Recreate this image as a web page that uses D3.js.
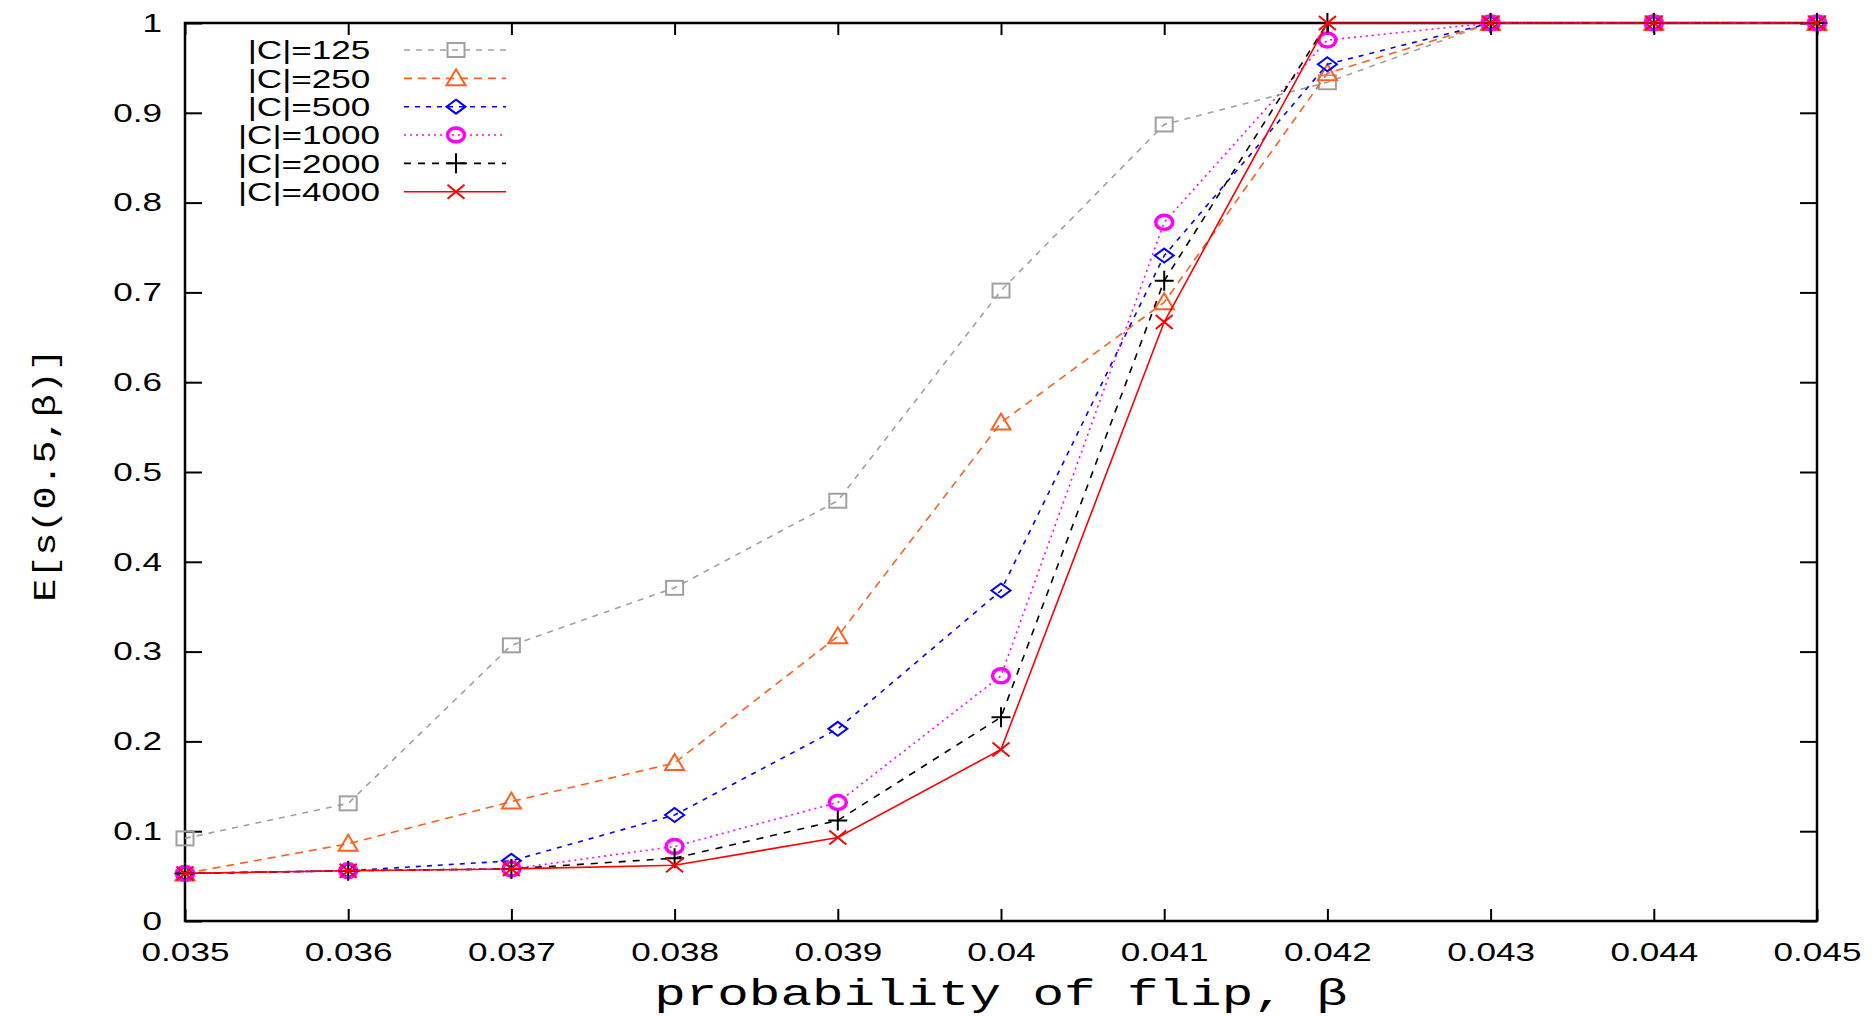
<!DOCTYPE html>
<html>
<head>
<meta charset="utf-8">
<script src="https://cdn.jsdelivr.net/npm/d3@7"></script>
<style>
  body { margin: 0; background: #fff; }
  svg { display: block; }
</style>
</head>
<body>
<div id="chart"></div>
<script>
// flip probability on the x axis
const betas = [0.035, 0.036, 0.037, 0.038, 0.039, 0.040, 0.041, 0.042, 0.043, 0.044, 0.045]

const c125  = [0.092, 0.131, 0.307, 0.371, 0.468, 0.702, 0.887, 0.934, 1, 1, 1]
const c250  = [0.053, 0.086, 0.133, 0.176, 0.317, 0.555, 0.689, 0.944, 1, 1, 1]
const c500  = [0.053, 0.056, 0.067, 0.118, 0.214, 0.368, 0.741, 0.954, 1, 1, 1]
const c1000 = [0.053, 0.056, 0.058, 0.083, 0.132, 0.273, 0.778, 0.981, 1, 1, 1]
const c2000 = [0.053, 0.056, 0.058, 0.070, 0.112, 0.227, 0.713, 1, 1, 1, 1]
const c4000 = [0.053, 0.056, 0.058, 0.062, 0.093, 0.191, 0.667, 1, 1, 1, 1]

const seriesNames = ["|C|=125", "|C|=250", "|C|=500", "|C|=1000", "|C|=2000", "|C|=4000"]
const xTicks = [0.035, 0.036, 0.037, 0.038, 0.039, 0.040, 0.041, 0.042, 0.043, 0.044, 0.045]
const yTicks = [0, 0.1, 0.2, 0.3, 0.4, 0.5, 0.6, 0.7, 0.8, 0.9, 1]

const series = [
  {name: seriesNames[0], values: c125,  color: "#a0a0a0", dash: "6,6", sym: "square"},
  {name: seriesNames[1], values: c250,  color: "#ff6020", dash: "8,6", sym: "triangle"},
  {name: seriesNames[2], values: c500,  color: "#0000ff", dash: "5,6", sym: "diamond"},
  {name: seriesNames[3], values: c1000, color: "#ff00ff", dash: "2,4", sym: "circle"},
  {name: seriesNames[4], values: c2000, color: "#000000", dash: "7,7", sym: "plus"},
  {name: seriesNames[5], values: c4000, color: "#ff0000", dash: null,  sym: "cross"}
]

const width = 1874
const height = 1016
const plotLeft = 185, plotRight = 1817, plotTop = 23, plotBottom = 921
const stretch = 1.35   // the original's text is wide

const svg = d3.select("#chart")
  .append("svg")
    .attr("width", width)
    .attr("height", height)

const x = d3.scaleLinear().domain([0.035, 0.045]).range([plotLeft, plotRight])
const y = d3.scaleLinear().domain([0, 1]).range([plotBottom, plotTop])

const fmtX = d => String(+d.toFixed(3))
const fmtY = d => String(+d.toFixed(1))

// axes
const xAxis = svg.append("g")
  .attr("transform", "translate(0," + plotBottom + ")")
  .call(d3.axisBottom(x).tickValues(xTicks).tickSizeInner(-12).tickSizeOuter(0).tickPadding(22).tickFormat(fmtX))
xAxis.select(".domain").remove()
xAxis.selectAll("text")
  .attr("transform", "scale(" + stretch + ",1)")

const yAxis = svg.append("g")
  .attr("transform", "translate(" + plotLeft + ",0)")
  .call(d3.axisLeft(y).tickValues(yTicks).tickSizeInner(-17).tickSizeOuter(0).tickPadding(23).tickFormat(fmtY))
yAxis.select(".domain").remove()
yAxis.selectAll("text")
  .attr("x", -23 / stretch)
  .attr("transform", "scale(" + stretch + ",1)")

const topAxis = svg.append("g")
  .attr("transform", "translate(0," + plotTop + ")")
  .call(d3.axisTop(x).tickValues(xTicks).tickSizeInner(-12).tickSizeOuter(0).tickFormat(""))
topAxis.select(".domain").remove()

const rightAxis = svg.append("g")
  .attr("transform", "translate(" + plotRight + ",0)")
  .call(d3.axisRight(y).tickValues(yTicks).tickSizeInner(-17).tickSizeOuter(0).tickFormat(""))
rightAxis.select(".domain").remove()

svg.selectAll(".tick line").attr("stroke", "#000").attr("stroke-width", 2)
svg.selectAll(".tick text")
  .attr("font-family", "'Liberation Sans', Arial, sans-serif")
  .attr("font-size", "26px")
  .attr("fill", "#000")

svg.append("rect")
  .attr("x", plotLeft)
  .attr("y", plotTop)
  .attr("width", plotRight - plotLeft)
  .attr("height", plotBottom - plotTop)
  .attr("fill", "none")
  .attr("stroke", "#000")
  .attr("stroke-width", 2.5)

// axis titles
svg.append("text")
  .attr("transform", "translate(" + (plotLeft + plotRight) / 2 + ",1005) scale(1.42,1)")
  .attr("text-anchor", "middle")
  .attr("font-family", "'Liberation Mono', 'Courier New', monospace")
  .attr("font-size", "37px")
  .attr("fill", "#000")
  .text("probability of flip, β")

svg.append("text")
  .attr("transform", "translate(55," + ((plotTop + plotBottom) / 2 + 3) + ") rotate(-90) scale(1.24,1)")
  .attr("text-anchor", "middle")
  .attr("font-family", "'Liberation Mono', 'Courier New', monospace")
  .attr("font-size", "31px")
  .attr("fill", "#000")
  .text("E[s(0.5,β)]")

// marker shapes, a bit wider than tall like the original
function drawMarker(g, sym, color) {
  const hx = 8.5, hy = 7
  if (sym === "square") {
    g.append("rect").attr("x", -hx).attr("y", -hy).attr("width", 2 * hx).attr("height", 2 * hy)
      .attr("fill", "none").attr("stroke", color).attr("stroke-width", 2)
  } else if (sym === "triangle") {
    g.append("path").attr("d", `M0,${-hy - 2}L${hx + 1},${hy}L${-hx - 1},${hy}Z`)
      .attr("fill", "none").attr("stroke", color).attr("stroke-width", 2)
  } else if (sym === "diamond") {
    g.append("path").attr("d", `M0,${-hy}L${hx + 1},0L0,${hy}L${-hx - 1},0Z`)
      .attr("fill", "none").attr("stroke", color).attr("stroke-width", 2)
  } else if (sym === "circle") {
    g.append("ellipse").attr("rx", hx).attr("ry", hy)
      .attr("fill", "none").attr("stroke", color).attr("stroke-width", 3.5)
  } else if (sym === "plus") {
    g.append("path").attr("d", `M${-hx - 1},0H${hx + 1}M0,${-hy - 3}V${hy + 3}`)
      .attr("fill", "none").attr("stroke", color).attr("stroke-width", 2)
  } else if (sym === "cross") {
    g.append("path").attr("d", `M${-hx},${-hy}L${hx},${hy}M${-hx},${hy}L${hx},${-hy}`)
      .attr("fill", "none").attr("stroke", color).attr("stroke-width", 2)
  }
}

const line = d3.line()
  .x(d => x(d[0]))
  .y(d => y(d[1]))

series.forEach(s => {
  const pts = betas.map((b, i) => [b, s.values[i]])
  svg.append("path")
    .datum(pts)
    .attr("d", line)
    .attr("fill", "none")
    .attr("stroke", s.color)
    .attr("stroke-width", 1.6)
    .attr("stroke-dasharray", s.dash)

  svg.selectAll(null)
    .data(pts)
    .enter()
    .append("g")
      .attr("transform", d => "translate(" + x(d[0]) + "," + y(d[1]) + ")")
      .each(function () { drawMarker(d3.select(this), s.sym, s.color) })
})

// legend
const legendY = d3.scaleLinear().domain([0, 5]).range([50, 191.7])

series.forEach((s, i) => {
  const ly = legendY(i)
  svg.append("text")
    .attr("transform", "translate(309," + ly + ") scale(" + stretch + ",1)")
    .attr("text-anchor", "middle")
    .attr("dy", "0.36em")
    .attr("font-family", "'Liberation Sans', Arial, sans-serif")
    .attr("font-size", "26px")
    .attr("fill", "#000")
    .text(s.name)
  svg.append("line")
    .attr("x1", 404).attr("x2", 506)
    .attr("y1", ly).attr("y2", ly)
    .attr("stroke", s.color)
    .attr("stroke-width", 1.6)
    .attr("stroke-dasharray", s.dash)
  const g = svg.append("g").attr("transform", "translate(456," + ly + ")")
  drawMarker(g, s.sym, s.color)
})
</script>
</body>
</html>
